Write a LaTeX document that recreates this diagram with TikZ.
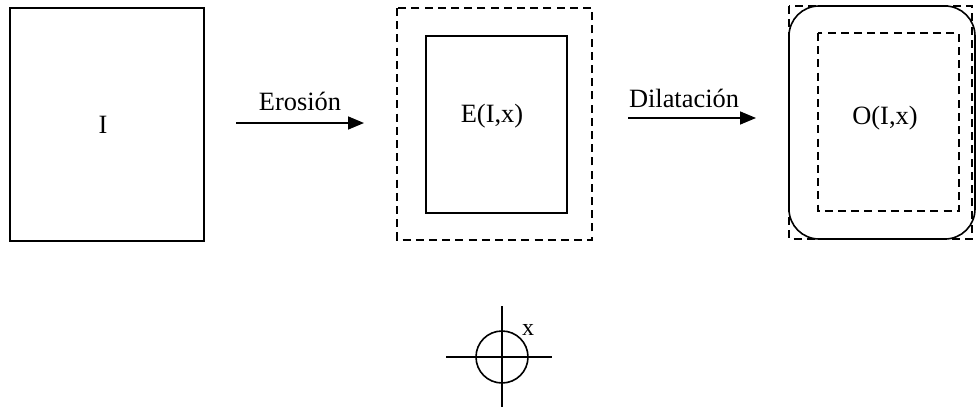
\documentclass[tikz,border=0pt]{standalone}
\usepackage{fontspec}
\setmainfont{Liberation Serif}
\usetikzlibrary{arrows.meta}
\begin{document}
\begin{tikzpicture}[x=0.5pt,y=-0.5pt,
  solidbox/.style={draw,line width=0.8pt},
  dashbox/.style={draw,line width=0.8pt,dash pattern=on 4pt off 2.6pt},
  lbl/.style={font=\fontsize{13.2pt}{15pt}\selectfont,inner sep=0pt},
  arr/.style={line width=0.8pt,-{Triangle[length=8pt,width=6.5pt]}}]
\useasboundingbox (0,0) rectangle (976,407);
% Box I
\draw[solidbox] (10,8) rectangle (204,241);
\node[lbl] (I) at (103,125) {I};
% Erosion arrow
\coordinate (a1s) at (236,123);
\coordinate (a1e) at (364,123);
\draw[arr] (a1s) -- (a1e);
\node[lbl] (ero) at (300,101) {Erosión};
% Box E
\draw[dashbox] (397,8) rectangle (592,240);
\draw[solidbox] (426,36) rectangle (567,213);
\node[lbl] (E) at (492,116) {E(I,x)};
% Dilatacion arrow
\coordinate (a2s) at (628,118);
\coordinate (a2e) at (756,118);
\draw[arr] (a2s) -- (a2e);
\node[lbl] (dil) at (684,98) {Dilatación};
% Box O
\draw[dashbox] (789,6) rectangle (972,239);
\draw[solidbox,rounded corners=15pt] (789,6) rectangle (975,239);
\draw[dashbox] (818,33) rectangle (959,211);
\node[lbl] (O) at (885,118) {O(I,x)};
% Structuring element
\coordinate (c) at (502,357);
\draw[line width=0.8pt] (c) circle (13pt);
\coordinate (vt) at (502,306);
\coordinate (vb) at (502,407);
\coordinate (hl) at (446,357);
\coordinate (hr) at (552,357);
\draw[line width=0.8pt] (vt) -- (vb);
\draw[line width=0.8pt] (hl) -- (hr);
\node[lbl,font=\fontsize{12pt}{14pt}\selectfont] (x) at (528,330) {x};
\end{tikzpicture}
\end{document}
